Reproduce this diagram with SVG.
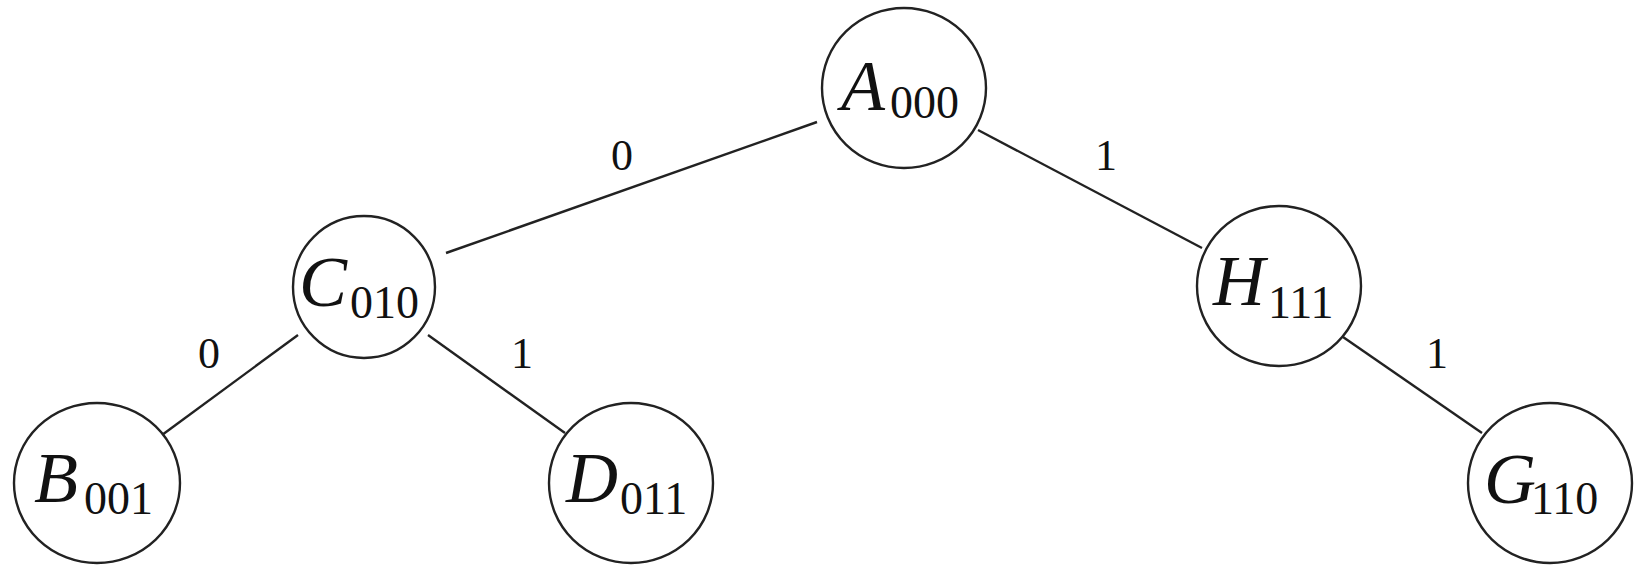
<svg xmlns="http://www.w3.org/2000/svg" width="1635" height="565" viewBox="0 0 1635 565">
<style>
.n{fill:#fff;stroke:#222;stroke-width:2.4}
.e{stroke:#222;stroke-width:2.4;fill:none}
.t{font-family:"Liberation Serif",serif;fill:#111}
.m{font-style:italic;font-size:72px}
.s{font-size:46px}
.l{font-family:"Liberation Serif",serif;font-size:44px;fill:#111;text-anchor:middle}
</style>
<rect width="1635" height="565" fill="#fff"/>
<g id="connectors">
<line class="e" x1="446" y1="253" x2="817" y2="122"/>
<line class="e" x1="978" y1="130" x2="1202" y2="248"/>
<line class="e" x1="298" y1="335" x2="162" y2="435"/>
<line class="e" x1="428" y1="335" x2="565" y2="433"/>
<line class="e" x1="1343" y1="337" x2="1482" y2="433"/>
<text class="l" x="622" y="170">0</text>
<text class="l" x="1106" y="170">1</text>
<text class="l" x="209" y="368">0</text>
<text class="l" x="522" y="368">1</text>
<text class="l" x="1437" y="368">1</text>
</g>
<g id="A"><ellipse class="n" cx="904" cy="88" rx="82" ry="80"/><text class="t"><tspan class="m" x="841" y="110">A</tspan><tspan class="s" x="890" y="118">000</tspan></text></g>
<g id="C"><ellipse class="n" cx="364" cy="287" rx="71" ry="71"/><text class="t"><tspan class="m" x="299" y="306">C</tspan><tspan class="s" x="350" y="318">010</tspan></text></g>
<g id="H"><ellipse class="n" cx="1279" cy="286" rx="82" ry="80"/><text class="t"><tspan class="m" x="1213" y="305">H</tspan><tspan class="s" x="1268" y="318">111</tspan></text></g>
<g id="B"><ellipse class="n" cx="97" cy="483" rx="83" ry="80"/><text class="t"><tspan class="m" x="34" y="502">B</tspan><tspan class="s" x="84" y="514">001</tspan></text></g>
<g id="D"><ellipse class="n" cx="631" cy="483" rx="82" ry="80"/><text class="t"><tspan class="m" x="566" y="502">D</tspan><tspan class="s" x="620" y="514">011</tspan></text></g>
<g id="G"><ellipse class="n" cx="1550" cy="483" rx="82" ry="80"/><text class="t"><tspan class="m" x="1484" y="503">G</tspan><tspan class="s" x="1531" y="514">110</tspan></text></g>
</svg>
